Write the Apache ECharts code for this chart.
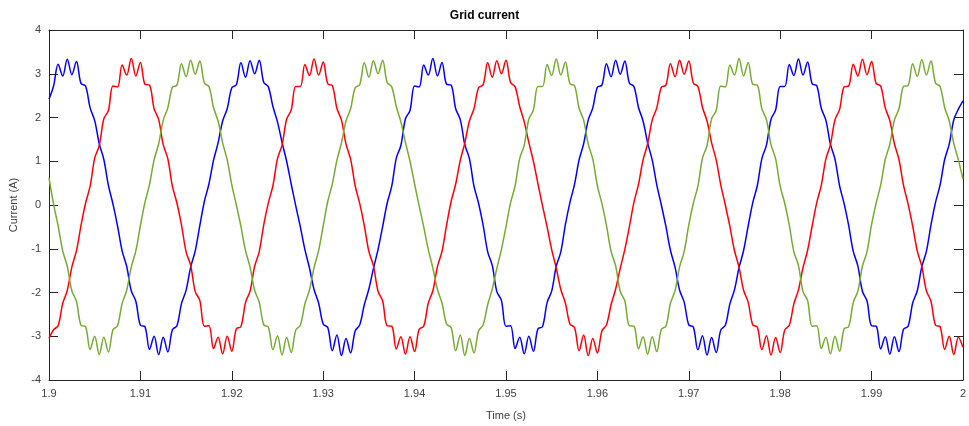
<!DOCTYPE html>
<html>
<head>
<meta charset="utf-8">
<script src="https://cdn.jsdelivr.net/npm/echarts@6/dist/echarts.min.js"></script>
<style>
html,body{margin:0;padding:0;background:#fff;}
#chart{width:969px;height:426px;}
</style>
</head>
<body>
<div id="chart"></div>
<script>
// Sample grid: 1.9 s to 2.0 s, 0.0005 s step (201 samples)
const tStart = 1.9;
const tStep = 0.0005;
const xTicks = ["1.9","1.91","1.92","1.93","1.94","1.95","1.96","1.97","1.98","1.99","2"];
const yTicks = [-4,-3,-2,-1,0,1,2,3,4];

const phaseBlue = [
2.42,2.72,3.22,2.95,3.33,2.98,3.28,2.78,2.72,2.22,1.93,1.40,1.04,0.45,0.02,-0.48,-1.05,-1.40,-1.96,-2.20,-2.75,-2.78,-3.30,-3.00,-3.42,-3.02,-3.36,-2.85,-2.76,-2.25,-1.95,-1.42,-1.05,-0.47,
0.08,0.48,1.02,1.42,1.92,2.20,2.68,2.75,3.25,2.92,3.30,3.00,3.31,2.80,2.70,2.25,1.90,1.43,1.00,0.48,-0.02,-0.50,-1.02,-1.44,-1.93,-2.24,-2.72,-2.80,-3.33,-2.97,-3.44,-3.05,-3.38,-2.88,-2.74,-2.28,-1.92,-1.45,-1.02,-0.50,
0.04,0.43,1.07,1.36,1.97,2.16,2.72,2.70,3.20,2.97,3.35,2.95,3.26,2.76,2.74,2.20,1.95,1.38,1.06,0.43,0.04,-0.46,-1.07,-1.38,-1.98,-2.18,-2.77,-2.76,-3.28,-3.02,-3.40,-3.00,-3.34,-2.83,-2.78,-2.23,-1.97,-1.40,-1.07,-0.45,
0.06,0.47,1.03,1.40,1.94,2.22,2.69,2.74,3.23,2.93,3.31,2.99,3.29,2.79,2.71,2.23,1.92,1.42,1.03,0.46,0.00,-0.49,-1.04,-1.42,-1.95,-2.22,-2.74,-2.79,-3.31,-2.99,-3.43,-3.03,-3.37,-2.86,-2.75,-2.26,-1.94,-1.43,-1.04,-0.48,
0.05,0.44,1.06,1.37,1.96,2.17,2.71,2.71,3.21,2.96,3.34,2.97,3.27,2.77,2.73,2.21,1.94,1.39,1.05,0.44,0.03,-0.47,-1.06,-1.39,-1.97,-2.19,-2.76,-2.77,-3.29,-3.01,-3.41,-3.01,-3.35,-2.84,-2.77,-2.24,-1.96,-1.41,-1.06,-0.46,
0.06,0.46,1.04,1.39,1.95,2.19,2.38
];

const phaseRed = [
-3.05,-2.85,-2.76,-2.25,-1.95,-1.42,-1.05,-0.47,
0.04,0.43,1.07,1.36,1.97,2.16,2.72,2.70,3.20,2.97,3.35,2.95,3.26,2.76,2.74,2.20,1.95,1.38,1.06,0.43,0.04,-0.46,-1.07,-1.38,-1.98,-2.18,-2.77,-2.76,-3.28,-3.02,-3.40,-3.00,-3.34,-2.83,-2.78,-2.23,-1.97,-1.40,-1.07,-0.45,
0.05,0.44,1.06,1.37,1.96,2.17,2.71,2.71,3.21,2.96,3.34,2.97,3.27,2.77,2.73,2.21,1.94,1.39,1.05,0.44,0.03,-0.47,-1.06,-1.39,-1.97,-2.19,-2.76,-2.77,-3.29,-3.01,-3.41,-3.01,-3.35,-2.84,-2.77,-2.24,-1.96,-1.41,-1.06,-0.46,
0.08,0.48,1.02,1.42,1.92,2.20,2.68,2.75,3.25,2.92,3.30,3.00,3.31,2.80,2.70,2.25,1.90,1.43,1.00,0.48,-0.02,-0.50,-1.02,-1.44,-1.93,-2.24,-2.72,-2.80,-3.33,-2.97,-3.44,-3.05,-3.38,-2.88,-2.74,-2.28,-1.92,-1.45,-1.02,-0.50,
0.06,0.47,1.03,1.40,1.94,2.22,2.69,2.74,3.23,2.93,3.31,2.99,3.29,2.79,2.71,2.23,1.92,1.42,1.03,0.46,0.00,-0.49,-1.04,-1.42,-1.95,-2.22,-2.74,-2.79,-3.31,-2.99,-3.43,-3.03,-3.37,-2.86,-2.75,-2.26,-1.94,-1.43,-1.04,-0.48,
0.05,0.45,1.05,1.38,1.95,2.18,2.70,2.72,3.22,2.95,3.33,2.98,3.28,2.78,2.72,2.22,1.93,1.40,1.04,0.45,0.02,-0.48,-1.05,-1.40,-1.96,-2.20,-2.75,-2.78,-3.30,-3.00,-3.42,-3.02,-3.25
];

const phaseGreen = [
0.62,0.02,-0.48,-1.05,-1.40,-1.96,-2.20,-2.75,-2.78,-3.30,-3.00,-3.42,-3.02,-3.36,-2.85,-2.76,-2.25,-1.95,-1.42,-1.05,-0.47,
0.06,0.47,1.03,1.40,1.94,2.22,2.69,2.74,3.23,2.93,3.31,2.99,3.29,2.79,2.71,2.23,1.92,1.42,1.03,0.46,0.00,-0.49,-1.04,-1.42,-1.95,-2.22,-2.74,-2.79,-3.31,-2.99,-3.43,-3.03,-3.37,-2.86,-2.75,-2.26,-1.94,-1.43,-1.04,-0.48,
0.08,0.48,1.02,1.42,1.92,2.20,2.68,2.75,3.25,2.92,3.30,3.00,3.31,2.80,2.70,2.25,1.90,1.43,1.00,0.48,-0.02,-0.50,-1.02,-1.44,-1.93,-2.24,-2.72,-2.80,-3.33,-2.97,-3.44,-3.05,-3.38,-2.88,-2.74,-2.28,-1.92,-1.45,-1.02,-0.50,
0.05,0.44,1.06,1.37,1.96,2.17,2.71,2.71,3.21,2.96,3.34,2.97,3.27,2.77,2.73,2.21,1.94,1.39,1.05,0.44,0.03,-0.47,-1.06,-1.39,-1.97,-2.19,-2.76,-2.77,-3.29,-3.01,-3.41,-3.01,-3.35,-2.84,-2.77,-2.24,-1.96,-1.41,-1.06,-0.46,
0.04,0.43,1.07,1.36,1.97,2.16,2.72,2.70,3.20,2.97,3.35,2.95,3.26,2.76,2.74,2.20,1.95,1.38,1.06,0.43,0.04,-0.46,-1.07,-1.38,-1.98,-2.18,-2.77,-2.76,-3.28,-3.02,-3.40,-3.00,-3.34,-2.83,-2.78,-2.23,-1.97,-1.40,-1.07,-0.45,
0.04,0.46,1.04,1.39,1.94,2.20,2.71,2.73,3.23,2.94,3.32,2.97,3.29,2.79,2.71,2.23,1.92,1.41,1.03,0.60
];

function pairs(vals){
  return vals.map((v,i)=>[+(tStart + i*tStep).toFixed(4), v]);
}

const chart = echarts.init(document.getElementById('chart'), null, {renderer:'canvas'});
const axisColor = '#262626';
const labelColor = '#404040';
const font = 'Liberation Sans, Arial, Helvetica, sans-serif';

function xFmt(v){ return String(+(+v).toFixed(2)); }

const lineSeries = (name, vals, color) => ({
  name, type:'line', data: pairs(vals), showSymbol:false, symbol:'none',
  smooth:0.35, lineStyle:{color, width:1.5}, itemStyle:{color}, animation:false,
  xAxisIndex:0, yAxisIndex:0, z:3
});

chart.setOption({
  backgroundColor:'#ffffff',
  animation:false,
  title:{
    text:'Grid current', left:'center', top:5,
    textStyle:{fontFamily:font, fontSize:12, fontWeight:'bold', color:'#000'}
  },
  grid:{left:44, right:4, top:30, bottom:46, containLabel:false},
  xAxis:[{
    type:'value', min:1.9, max:2.0, interval:0.01,
    name:'Time (s)', nameLocation:'middle', nameGap:30,
    nameTextStyle:{fontFamily:font, fontSize:11, color:labelColor},
    axisLine:{show:true, onZero:false, lineStyle:{color:axisColor, width:1}},
    axisTick:{show:true, inside:true, length:9, lineStyle:{color:axisColor}},
    axisLabel:{fontFamily:font, fontSize:11, color:labelColor, margin:8, formatter:xFmt},
    splitLine:{show:false}
  },{
    type:'value', position:'top', min:1.9, max:2.0, interval:0.01,
    axisLine:{show:true, onZero:false, lineStyle:{color:axisColor, width:1}},
    axisTick:{show:true, inside:true, length:9, lineStyle:{color:axisColor}},
    axisLabel:{show:false}, splitLine:{show:false}
  }],
  yAxis:[{
    type:'value', min:-4, max:4, interval:1,
    name:'Current (A)', nameLocation:'middle', nameGap:30, nameRotate:90,
    nameTextStyle:{fontFamily:font, fontSize:11, color:labelColor},
    axisLine:{show:true, onZero:false, lineStyle:{color:axisColor, width:1}},
    axisTick:{show:true, inside:true, length:9, lineStyle:{color:axisColor}},
    axisLabel:{fontFamily:font, fontSize:11, color:labelColor, margin:8},
    splitLine:{show:false}
  },{
    type:'value', position:'right', min:-4, max:4, interval:1,
    axisLine:{show:true, onZero:false, lineStyle:{color:axisColor, width:1}},
    axisTick:{show:true, inside:true, length:9, lineStyle:{color:axisColor}},
    axisLabel:{show:false}, splitLine:{show:false}
  }],
  series:[
    lineSeries('Phase a', phaseBlue, '#0000FF'),
    lineSeries('Phase b', phaseRed, '#FF0000'),
    lineSeries('Phase c', phaseGreen, '#77AC30')
  ]
});
</script>
</body>
</html>
